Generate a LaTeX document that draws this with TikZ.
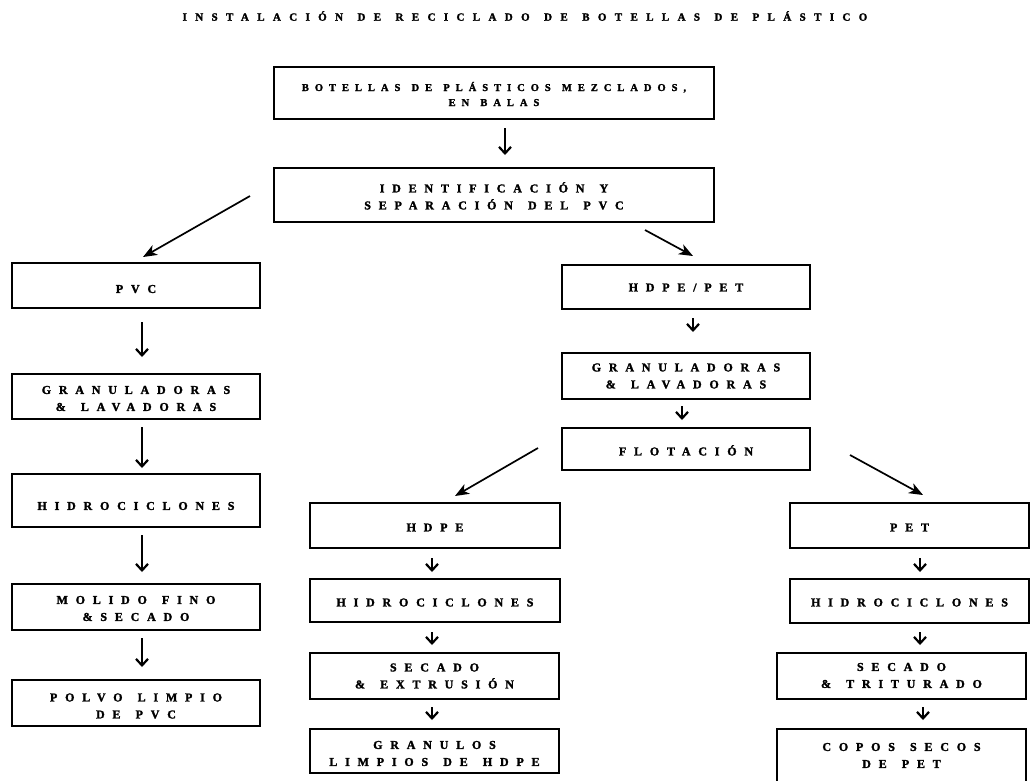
\documentclass[tikz,border=0pt]{standalone}
\usepackage{fontspec}
\setmainfont{Liberation Serif}
\newfontfamily\spacedfont{Liberation Serif Bold}[LetterSpace=65,WordSpace=1.4,FakeBold=1.8]
\newfontfamily\narrowspaced{Liberation Serif Bold}[LetterSpace=57,WordSpace=1.3,FakeBold=1.8]
\newfontfamily\titlefont{Liberation Serif Bold}[LetterSpace=76,WordSpace=1.3,FakeBold=1.8]
\usetikzlibrary{arrows.meta}
% stage text, lowered by #1 without changing the box size
\newcommand{\stagetext}[2]{\raisebox{-#1}[\height][\depth]{\begin{tabular}{@{}c@{}}#2\end{tabular}}}
\begin{document}
\begin{tikzpicture}[x=1pt,y=-1pt,
  lbl/.style={font=\spacedfont\fontsize{12}{17}\selectfont, align=center, inner sep=0pt},
  stagebox/.style={lbl, draw, line width=2pt, rectangle},
  vert/.style={line width=1.8pt, -{Straight Barb[length=6.5pt,width=12pt,line width=2.2pt]}},
  diag/.style={line width=1.7pt, -{Stealth[length=14pt,width=11pt,inset=4pt]}}]
\clip (0,0) rectangle (1031,780);
\fill[white] (0,0) rectangle (1031,780);

% title
\node[lbl, font=\titlefont\fontsize{11}{14}\selectfont] (title) at (525,16) {INSTALACIÓN DE RECICLADO DE BOTELLAS DE PLÁSTICO};

% main trunk
\node[stagebox, minimum width=440, minimum height=52, font=\narrowspaced\fontsize{10.5}{15}\selectfont] (bales) at (494,93) {\stagetext{2.5pt}{BOTELLAS DE PLÁSTICOS MEZCLADOS,\\EN BALAS}};
\node[stagebox, minimum width=440, minimum height=54] (ident) at (494,195) {\stagetext{2.5pt}{IDENTIFICACIÓN Y\\SEPARACIÓN DEL PVC}};

% PVC line
\node[stagebox, minimum width=248, minimum height=45] (pvc) at (136,285.5) {\stagetext{4pt}{PVC}};
\node[stagebox, minimum width=248, minimum height=45] (granL) at (136,396.5) {\stagetext{2.5pt}{GRANULADORAS\\ \& LAVADORAS}};
\node[stagebox, minimum width=248, minimum height=53] (hidroL) at (136,500.5) {\stagetext{6pt}{HIDROCICLONES}};
\node[stagebox, minimum width=248, minimum height=46] (molido) at (136,607) {\stagetext{2pt}{MOLIDO FINO\\\&SECADO}};
\node[stagebox, minimum width=248, minimum height=46] (polvo) at (136,703) {\stagetext{3.5pt}{POLVO LIMPIO\\DE PVC}};

% HDPE/PET line
\node[stagebox, minimum width=248, minimum height=44] (mix) at (686,287) {\stagetext{1pt}{HDPE/PET}};
\node[stagebox, minimum width=248, minimum height=46] (granR) at (686,376) {\stagetext{0.5pt}{GRANULADORAS\\ \& LAVADORAS}};
\node[stagebox, minimum width=248, minimum height=42] (flot) at (686,449) {\stagetext{3pt}{FLOTACIÓN}};

% HDPE branch
\node[stagebox, minimum width=250, minimum height=45] (hdpe) at (435,525.5) {\stagetext{2.5pt}{HDPE}};
\node[stagebox, minimum width=250, minimum height=43] (hidroM) at (435,600.5) {\stagetext{2.5pt}{HIDROCICLONES}};
\node[stagebox, minimum width=249, minimum height=46] (extr) at (434.5,676) {\stagetext{0.5pt}{SECADO\\\& EXTRUSIÓN}};
\node[stagebox, minimum width=249, minimum height=44] (gran) at (434.5,751) {\stagetext{3pt}{GRANULOS\\LIMPIOS DE HDPE}};

% PET branch
\node[stagebox, minimum width=239, minimum height=45] (pet) at (909.5,525.5) {\stagetext{2.5pt}{PET}};
\node[stagebox, minimum width=239, minimum height=44] (hidroR) at (909.5,601) {\stagetext{2pt}{HIDROCICLONES}};
\node[stagebox, minimum width=249, minimum height=46] (trit) at (901.5,676) {\stagetext{0pt}{SECADO\\\& TRITURADO}};
\node[stagebox, minimum width=249, minimum height=56] (copos) at (901.5,757) {\stagetext{-1pt}{COPOS SECOS\\DE PET}};

% arrow end points
\coordinate (a1s) at (505,128);  \coordinate (a1e) at (505,155);
\coordinate (d1s) at (250,196);  \coordinate (d1e) at (143,257);
\coordinate (d2s) at (645,230);  \coordinate (d2e) at (693,256);
\coordinate (l1s) at (142,322);  \coordinate (l1e) at (142,357);
\coordinate (l2s) at (142,427);  \coordinate (l2e) at (142,468);
\coordinate (l3s) at (142,535);  \coordinate (l3e) at (142,572);
\coordinate (l4s) at (142,638);  \coordinate (l4e) at (142,667);
\coordinate (r1s) at (693,318);  \coordinate (r1e) at (693,332);
\coordinate (r2s) at (682,406);  \coordinate (r2e) at (682,420);
\coordinate (d3s) at (538,448);  \coordinate (d3e) at (455,496);
\coordinate (d4s) at (850,455);  \coordinate (d4e) at (923,495);
\coordinate (m1s) at (432,558);  \coordinate (m1e) at (432,572);
\coordinate (m2s) at (432,632);  \coordinate (m2e) at (432,645);
\coordinate (m3s) at (432,707);  \coordinate (m3e) at (432,720);
\coordinate (p1s) at (920,558);  \coordinate (p1e) at (920,572);
\coordinate (p2s) at (920,632);  \coordinate (p2e) at (920,645);
\coordinate (p3s) at (923,707);  \coordinate (p3e) at (923,720);

\draw[vert] (a1s) -- (a1e);
\draw[diag] (d1s) -- (d1e);
\draw[diag] (d2s) -- (d2e);
\draw[vert] (l1s) -- (l1e);
\draw[vert] (l2s) -- (l2e);
\draw[vert] (l3s) -- (l3e);
\draw[vert] (l4s) -- (l4e);
\draw[vert] (r1s) -- (r1e);
\draw[vert] (r2s) -- (r2e);
\draw[diag] (d3s) -- (d3e);
\draw[diag] (d4s) -- (d4e);
\draw[vert] (m1s) -- (m1e);
\draw[vert] (m2s) -- (m2e);
\draw[vert] (m3s) -- (m3e);
\draw[vert] (p1s) -- (p1e);
\draw[vert] (p2s) -- (p2e);
\draw[vert] (p3s) -- (p3e);
\end{tikzpicture}
\end{document}
